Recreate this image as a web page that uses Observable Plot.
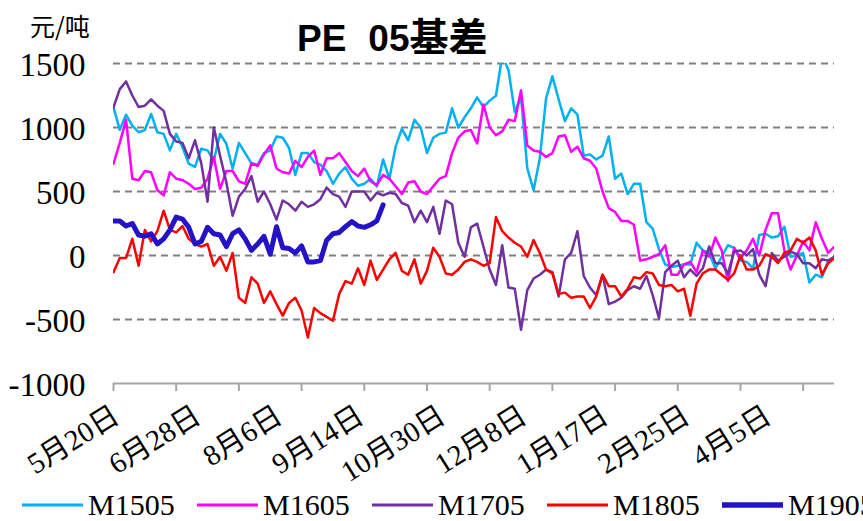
<!DOCTYPE html>
<html>
<head>
<meta charset="utf-8">
<script src="https://cdn.jsdelivr.net/npm/d3@7"></script>
<script src="https://cdn.jsdelivr.net/npm/@observablehq/plot@0.6"></script>
<style>
  html, body { margin: 0; padding: 0; background: #fff; }
  #wrap { position: relative; width: 863px; height: 521px; overflow: hidden; background: #fff; }
  #chart { position: absolute; left: 0; top: 0; }
  #chart svg text { font-family: "Liberation Serif", "Noto Sans CJK SC", serif !important; }
  #title { position: absolute; left: 297px; top: 16px; font-family: "Liberation Sans", "Noto Sans CJK SC", sans-serif; font-weight: bold; font-size: 37px; line-height: 37px; white-space: pre; color: #000; }
  #title .cjk { font-family: "Noto Sans CJK SC", sans-serif; font-size: 39px; }
  #unit { position: absolute; left: 30px; top: 13px; font-family: "Noto Sans CJK SC", sans-serif; font-size: 25px; line-height: 25px; color: #000; }
  .lg { position: absolute; top: 490px; height: 30px; display: flex; align-items: center; white-space: nowrap; }
  .lg span { font-family: "Liberation Serif", serif; font-size: 30px; line-height: 30px; margin-left: 5px; color: #000; }
</style>
</head>
<body>
<div id="wrap">
  <div id="chart"></div>
  <div id="unit">元/吨</div>
  <div id="title">PE<span style="margin-left:22px">05</span><span class="cjk">基差</span></div>
</div>
<script>
// ---- data (trading-day index, sampled every 2 days) ----
const STEP = 2;
const seriesNames = ["M1505", "M1605", "M1705", "M1805", "M1905"];
const m1505 = [1158, 982, 1100, 1015, 963, 980, 1106, 963, 950, 821, 950, 847, 717, 692, 834, 821, 743, 950, 873, 678,
  880, 800, 720, 710, 800, 820, 930, 920, 840, 630, 800, 800, 730, 710, 660, 560, 640, 690, 600,
  545, 560, 600, 540, 750, 600, 850, 990, 900, 1060, 1000, 800, 920, 950, 960, 1150, 1000, 1080, 1150, 1235,
  1160, 1210, 1248, 1560, 1450, 1120, 1240, 680, 510, 760, 1230, 1400, 1220, 1050, 1150, 1100, 780, 790, 750,
  780, 930, 600, 640, 480, 560, 560, 260, 210, 50, -70, -90, -80, -70, -70, 100, 40, 20, -100,
  -10, 80, 60, -40, -50, -100, 160, 170, 140, 150, 225, -10, 0, 20, -210, -150, -170, -40, -10];
const m1605 = [717, 880, 1060, 600, 588, 660, 650, 510, 470, 650, 600, 590, 560, 520, 530, 600, 770, 520, 660, 660,
  580, 560, 720, 700, 790, 860, 680, 650, 640, 740, 690, 770, 820, 630, 760, 760, 800, 730, 660,
  620, 680, 580, 550, 630, 600, 540, 480, 570, 580, 500, 480, 540, 600, 620, 800, 920, 970, 980, 875,
  1180, 1000, 940, 970, 1060, 1050, 1290, 860, 820, 810, 770, 800, 930, 940, 810, 850, 760, 740, 680,
  500, 370, 340, 270, 270, 240, -40, -30, -10, 10, 80, -150, -150, -70, -50, -130, 40, -10, 140,
  40, -200, 60, -20, 40, 130, 0, 200, 330, 330, 40, -110, 0, 110, 40, 260, 130, 20, 70];
const m1705 = [1158, 1300, 1360, 1250, 1160, 1170, 1220, 1170, 1130, 950, 890, 880, 760, 900, 720, 420, 1000, 780, 570, 310,
  460, 520, 620, 420, 500, 400, 280, 430, 400, 350, 420, 380, 400, 440, 530, 480, 460, 380, 500,
  500, 500, 430, 490, 470, 490, 480, 410, 390, 260, 350, 260, 380, 170, 430, 400, 100, -10, 220, 250,
  70, -110, -230, 80, -250, -260, -580, -270, -180, -150, -110, -130, -320, -30, 20, 190, -160, -250, -310,
  -150, -380, -360, -330, -270, -240, -260, -160, -310, -490, -130, -80, -40, -170, -110, -160, -100, 70, -60,
  -60, -140, 30, 40, 0, 50, -150, -240, 20, -40, -10, 30, 10, -60, -60, -100, -30, -40, -10];
const m1805 = [-130, -20, -20, 130, -80, 200, 110, 190, 350, 200, 180, 230, 130, 90, 70, 90, -80, -10, -120, 20,
  -330, -370, -170, -220, -370, -280, -380, -470, -370, -330, -430, -640, -410, -450, -480, -510, -300, -200, -220,
  -100, -230, -40, -190, -110, -30, 20, -120, -150, -30, -220, -120, 60, -10, -140, -150, -110, -50, -30, -50,
  -80, -60, 300, 190, 140, 100, 70, -10, 120, 20, -110, -140, -300, -290, -330, -320, -320, -410, -320,
  -150, -240, -240, -320, -260, -170, -180, -130, -140, -230, -240, -230, -280, -260, -470, -220, -140, -110, -110,
  -150, -190, -140, 0, -110, -110, -80, 10, -10, -60, 20, 40, 130, 100, 140, 40, -150, -60, -20];
const m1905 = [270, 270, 230, 250, 160, 150, 170, 90, 130, 200, 300, 285, 220, 90, 110, 220, 170, 160, 70, 170,
  200, 130, 40, 90, 150, 10, 225, 60, 55, 20, 75, -50, -50, -40, 120, 170, 180, 225, 265,
  230, 220, 240, 270, 395];
const xTickIdx = [0, 20, 40, 60, 80, 100, 120, 140, 160, 180, 200, 220];
const xLabelIdx = [0, 26, 52, 78, 104, 130, 156, 182, 208];
const xLabels = ["5月20日", "6月28日", "8月6日", "9月14日", "10月30日", "12月8日", "1月17日", "2月25日", "4月5日"];
const yTicks = [-1000, -500, 0, 500, 1000, 1500];
const yGrid = [-500, 0, 500, 1000, 1500];

// ---- styles ----
const colors = ["#00B0F0", "#FF00FF", "#7030A0", "#FF0000", "#2312C6"];
const widths = [2.5, 2.5, 2.5, 2.5, 5];

const allSeries = [m1505, m1605, m1705, m1805, m1905];
const toRows = (arr) => arr.map((v, k) => ({i: k * STEP, v}));

const lineMarks = allSeries.map((arr, s) =>
  Plot.lineY(toRows(arr), {x: "i", y: "v", stroke: colors[s], strokeWidth: widths[s], clip: true, strokeLinejoin: "round"})
);

const chart = Plot.plot({
  width: 863,
  height: 521,
  marginLeft: 113,
  marginRight: 29,
  marginTop: 63,
  marginBottom: 138,
  x: {domain: [0, 230], label: null},
  y: {domain: [-1000, 1500], label: null},
  style: {background: "transparent", fontFamily: "Liberation Serif, serif", color: "#000", overflow: "visible"},
  marks: [
    Plot.gridY(yGrid, {stroke: "#808080", strokeOpacity: 1, strokeWidth: 2, strokeDasharray: "7,5"}),
    Plot.axisY(yTicks, {tickSize: 0, tickPadding: 28, tickFormat: d => String(d), fontSize: 33, fill: "#000", dy: 2}),
    Plot.ruleY([-1000], {stroke: "#a6a6a6", strokeWidth: 2}),
    Plot.axisX(xTickIdx, {tickSize: 8, tickFormat: () => "", stroke: "#a6a6a6", strokeWidth: 2}),
    ...lineMarks,
    Plot.text(xLabelIdx, {
      x: d => d,
      text: (d, k) => xLabels[k],
      frameAnchor: "bottom",
      rotate: -32,
      textAnchor: "end",
      lineAnchor: "top",
      dy: 20,
      dx: -3,
      fontSize: 29,
      fill: "#000"
    })
  ]
});
document.getElementById("chart").appendChild(chart);

// ---- legend ----
const wrap = document.getElementById("wrap");
seriesNames.forEach((name, s) => {
  const item = document.createElement("div");
  item.className = "lg";
  item.style.left = (22 + s * 175) + "px";
  const svgNS = "http://www.w3.org/2000/svg";
  const sw = document.createElementNS(svgNS, "svg");
  sw.setAttribute("width", 61);
  sw.setAttribute("height", 8);
  const ln = document.createElementNS(svgNS, "line");
  ln.setAttribute("x1", 0); ln.setAttribute("x2", 61);
  ln.setAttribute("y1", 4); ln.setAttribute("y2", 4);
  ln.setAttribute("stroke", colors[s]);
  ln.setAttribute("stroke-width", widths[s] + 0.5);
  sw.appendChild(ln);
  const t = document.createElement("span");
  t.textContent = name;
  item.appendChild(sw);
  item.appendChild(t);
  wrap.appendChild(item);
});
</script>
</body>
</html>
